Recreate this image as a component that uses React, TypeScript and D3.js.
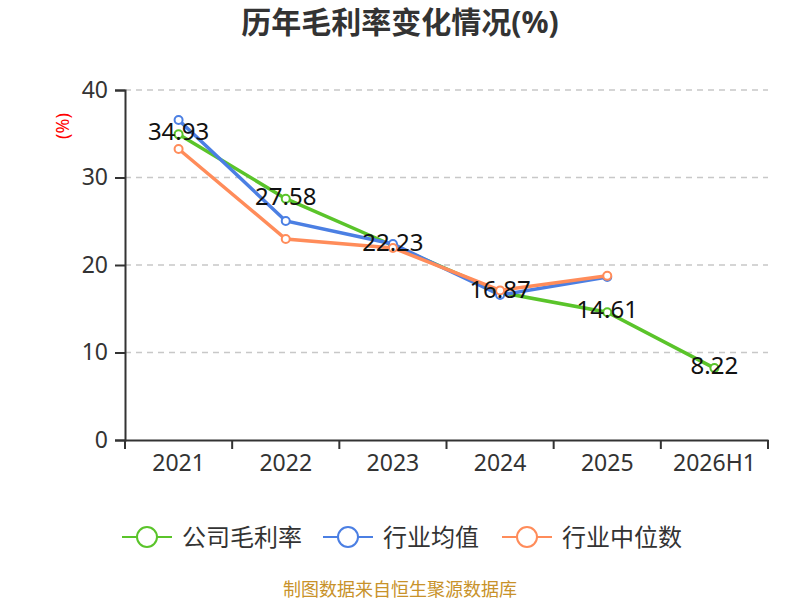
import React, { useEffect, useRef } from "react";
import * as d3 from "d3";

const categories = ["2021", "2022", "2023", "2024", "2025", "2026H1"];
const companyValues = [34.93, 27.58, 22.23, 16.87, 14.61, 8.22];
const industryAvg = [36.57, 25.03, 22.4, 16.57, 18.62, null];
const industryMedian = [33.26, 22.97, 21.95, 17.1, 18.76, null];
const yTicks = [0, 10, 20, 30, 40];

const seriesList = [
  { name: "公司毛利率", color: "#5ac42a", values: companyValues },
  { name: "行业均值", color: "#4b7fe3", values: industryAvg },
  { name: "行业中位数", color: "#ff8c5a", values: industryMedian },
];

const FONT = '"Noto Sans", "Noto Sans CJK SC", sans-serif';

const App = () => {
  const svgRef = useRef<SVGSVGElement>(null);

  useEffect(() => {
    const svg = d3.select(svgRef.current);
    svg.selectAll("*").remove();

    const margin = { top: 90, right: 32, bottom: 160, left: 125 };
    const width = 800;
    const height = 600;

    const x = d3
      .scaleBand()
      .domain(categories)
      .range([margin.left, width - margin.right]);
    const y = d3
      .scaleLinear()
      .domain([0, 40])
      .range([height - margin.bottom, margin.top]);

    // title
    svg
      .append("text")
      .attr("x", 400)
      .attr("y", 33)
      .attr("text-anchor", "middle")
      .attr("font-size", 30)
      .attr("font-weight", "bold")
      .attr("fill", "#333")
      .text("历年毛利率变化情况(%)");

    // unit
    svg
      .append("text")
      .attr("transform", `translate(69,126) rotate(-90)`)
      .attr("text-anchor", "middle")
      .attr("font-size", 18)
      .attr("fill", "#ff0000")
      .text("(%)");

    // grid
    svg
      .append("g")
      .selectAll("line")
      .data(yTicks.filter((t) => t > 0))
      .join("line")
      .attr("x1", margin.left)
      .attr("x2", width - margin.right)
      .attr("y1", (d) => y(d))
      .attr("y2", (d) => y(d))
      .attr("stroke", "#c8c8c8")
      .attr("stroke-width", 1.5)
      .attr("stroke-dasharray", "6,5");

    // y axis
    const yAxis = svg
      .append("g")
      .attr("transform", `translate(${margin.left},0)`)
      .call(d3.axisLeft(y).tickValues(yTicks).tickSize(10).tickPadding(7));
    yAxis.select(".domain").attr("stroke", "#333").attr("stroke-width", 2);
    yAxis.selectAll(".tick line").attr("stroke", "#333").attr("stroke-width", 2);
    yAxis
      .selectAll(".tick text")
      .attr("font-size", 23)
      .attr("fill", "#333")
      .attr("font-family", FONT);

    // x axis
    const xAxis = svg
      .append("g")
      .attr("transform", `translate(0,${height - margin.bottom})`)
      .call(d3.axisBottom(x).tickSize(0).tickPadding(15));
    xAxis.select(".domain").attr("stroke", "#333").attr("stroke-width", 2);
    xAxis
      .selectAll(".tick text")
      .attr("font-size", 23)
      .attr("fill", "#333")
      .attr("font-family", FONT);
    const bounds = categories.map((c) => x(c) as number).concat([width - margin.right]);
    xAxis
      .selectAll(".boundary")
      .data(bounds)
      .join("line")
      .attr("x1", (d) => d)
      .attr("x2", (d) => d)
      .attr("y1", 0)
      .attr("y2", 9)
      .attr("stroke", "#333")
      .attr("stroke-width", 2);

    const cx = (i: number) => (x(categories[i]) as number) + x.bandwidth() / 2;

    // lines
    seriesList.forEach((s) => {
      const pts = s.values
        .map((v, i) => ({ v, i }))
        .filter((p) => p.v !== null) as { v: number; i: number }[];
      const line = d3
        .line<{ v: number; i: number }>()
        .x((d) => cx(d.i))
        .y((d) => y(d.v));
      const g = svg.append("g");
      g.append("path")
        .attr("d", line(pts))
        .attr("fill", "none")
        .attr("stroke", s.color)
        .attr("stroke-width", 3.5);
      g.selectAll("circle")
        .data(pts)
        .join("circle")
        .attr("cx", (d) => cx(d.i))
        .attr("cy", (d) => y(d.v))
        .attr("r", 4)
        .attr("fill", "#fff")
        .attr("stroke", s.color)
        .attr("stroke-width", 2);
    });

    // labels
    svg
      .append("g")
      .selectAll("text")
      .data(companyValues)
      .join("text")
      .attr("x", (d, i) => cx(i))
      .attr("y", (d) => y(d) + 6)
      .attr("text-anchor", "middle")
      .attr("font-size", 24)
      .attr("fill", "#111")
      .attr("font-family", FONT)
      .text((d) => d.toFixed(2));

    // legend
    const legendX = [122, 323, 502];
    const lg = svg
      .append("g")
      .selectAll("g")
      .data(seriesList)
      .join("g")
      .attr("transform", (d, i) => `translate(${legendX[i]},537)`);
    lg.append("line")
      .attr("x1", 0)
      .attr("x2", 50)
      .attr("stroke", (d) => d.color)
      .attr("stroke-width", 2);
    lg.append("circle")
      .attr("cx", 25)
      .attr("r", 10)
      .attr("fill", "#fff")
      .attr("stroke", (d) => d.color)
      .attr("stroke-width", 2);
    lg.append("text")
      .attr("x", 60)
      .attr("y", 9)
      .attr("font-size", 24)
      .attr("fill", "#333")
      .text((d) => d.name);

    // source
    svg
      .append("text")
      .attr("x", 400)
      .attr("y", 596)
      .attr("text-anchor", "middle")
      .attr("font-size", 18)
      .attr("fill", "#c8922a")
      .text("制图数据来自恒生聚源数据库");
  }, []);

  return (
    <svg
      ref={svgRef}
      width={800}
      height={600}
      style={{ position: "absolute", left: 0, top: 0, fontFamily: FONT }}
    />
  );
};

export default App;
